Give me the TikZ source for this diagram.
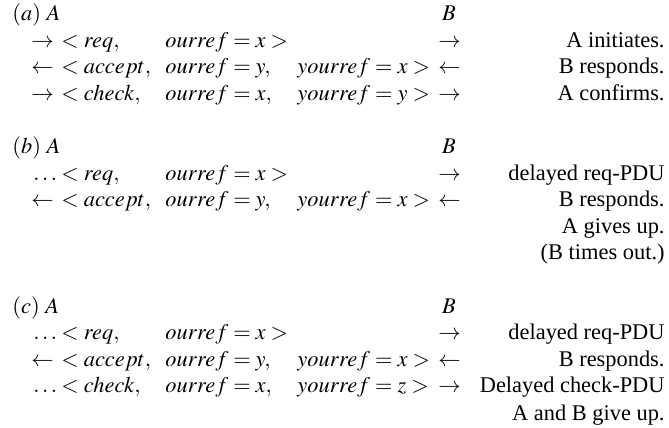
\documentclass[tikz,border=0pt]{standalone}
\usepackage{mathptmx}
\usepackage[no-math]{fontspec}
\setmainfont{Liberation Serif}
\usetikzlibrary{positioning}

\tikzset{
  cell/.style={inner sep=0pt, anchor=base west},
  peer/.style={inner sep=0pt, anchor=base},
  note/.style={inner sep=0pt, anchor=base east},
}

\begin{document}
\begin{tikzpicture}[x=0.4464pt, y=-0.4464pt]
  \useasboundingbox (0,0) rectangle (669,428);

  % (a) normal connection set-up
  \node[cell] (headA) at (12,21) {$(a)\ A$};
  \node[peer] (peerA) at (449,21) {$B$};
  \node[cell] (a1dir) at (31,48) {$\rightarrow$};
  \node[cell] (a1msg) at (61,48) {$<req,$};
  \node[cell] (a1our) at (165,48) {$ourref=x>$};
  \node[cell] (a1out) at (438,48) {$\rightarrow$};
  \node[note] (a1txt) at (665,48) {A initiates.};
  \node[cell] (a2dir) at (31,74) {$\leftarrow$};
  \node[cell] (a2msg) at (61,74) {$<accept,$};
  \node[cell] (a2our) at (165,74) {$ourref=y,$};
  \node[cell] (a2your) at (297,74) {$yourref=x>$};
  \node[cell] (a2out) at (438,74) {$\leftarrow$};
  \node[note] (a2txt) at (665,74) {B responds.};
  \node[cell] (a3dir) at (31,101) {$\rightarrow$};
  \node[cell] (a3msg) at (61,101) {$<check,$};
  \node[cell] (a3our) at (165,101) {$ourref=x,$};
  \node[cell] (a3your) at (297,101) {$yourref=y>$};
  \node[cell] (a3out) at (438,101) {$\rightarrow$};
  \node[note] (a3txt) at (665,101) {A confirms.};

  % (b) old req-PDU turns up late
  \node[cell] (headB) at (12,154) {$(b)\ A$};
  \node[peer] (peerB) at (449,154) {$B$};
  \node[cell] (b1dir) at (33,181) {$\ldots$};
  \node[cell] (b1msg) at (61,181) {$<req,$};
  \node[cell] (b1our) at (165,181) {$ourref=x>$};
  \node[cell] (b1out) at (438,181) {$\rightarrow$};
  \node[note] (b1txt) at (665,181) {delayed req-PDU};
  \node[cell] (b2dir) at (31,207) {$\leftarrow$};
  \node[cell] (b2msg) at (61,207) {$<accept,$};
  \node[cell] (b2our) at (165,207) {$ourref=y,$};
  \node[cell] (b2your) at (297,207) {$yourref=x>$};
  \node[cell] (b2out) at (438,207) {$\leftarrow$};
  \node[note] (b2txt) at (665,207) {B responds.};
  \node[note] (b3txt) at (665,234) {A gives up.};
  \node[note] (b4txt) at (665,260) {(B times out.)};

  % (c) old req-PDU and old check-PDU both turn up
  \node[cell] (headC) at (12,314) {$(c)\ A$};
  \node[peer] (peerC) at (449,314) {$B$};
  \node[cell] (c1dir) at (33,340) {$\ldots$};
  \node[cell] (c1msg) at (61,340) {$<req,$};
  \node[cell] (c1our) at (165,340) {$ourref=x>$};
  \node[cell] (c1out) at (438,340) {$\rightarrow$};
  \node[note] (c1txt) at (665,340) {delayed req-PDU};
  \node[cell] (c2dir) at (31,367) {$\leftarrow$};
  \node[cell] (c2msg) at (61,367) {$<accept,$};
  \node[cell] (c2our) at (165,367) {$ourref=y,$};
  \node[cell] (c2your) at (297,367) {$yourref=x>$};
  \node[cell] (c2out) at (438,367) {$\leftarrow$};
  \node[note] (c2txt) at (665,367) {B responds.};
  \node[cell] (c3dir) at (33,393) {$\ldots$};
  \node[cell] (c3msg) at (61,393) {$<check,$};
  \node[cell] (c3our) at (165,393) {$ourref=x,$};
  \node[cell] (c3your) at (297,393) {$yourref=z>$};
  \node[cell] (c3out) at (438,393) {$\rightarrow$};
  \node[note] (c3txt) at (665,393) {Delayed check-PDU};
  \node[note] (c4txt) at (665,420) {A and B give up.};
\end{tikzpicture}
\end{document}
